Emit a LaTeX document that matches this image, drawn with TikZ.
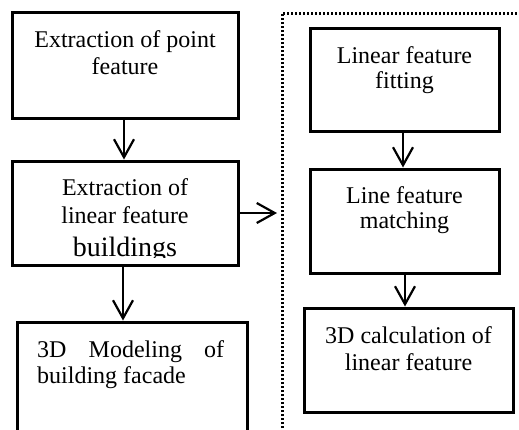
\documentclass[tikz,border=0pt]{standalone}
\usepackage{fontspec}
\setmainfont{Liberation Serif}
\usetikzlibrary{arrows.meta}
\begin{document}
\begin{tikzpicture}[x=1pt,y=-1pt,
  box/.style={draw, line width=3pt, minimum width=#1, inner sep=0pt},
  txt/.style={anchor=base, inner sep=0pt, font=\fontsize{24}{28}\selectfont},
  flow/.style={line width=2.2pt, -{Straight Barb[length=18pt,width=20pt,line width=2.2pt]}},
  frame/.style={line width=3pt, dash pattern=on 2.4pt off 1.6pt}]
\useasboundingbox (0,0) rectangle (519,429);
\clip (0,0) rectangle (519,429);

% left column
\node[box=226pt, minimum height=106pt] (b1) at (125,65) {};
\node[box=226pt, minimum height=104pt] (b2) at (125,213) {};
\node[box=230pt, minimum height=140pt] (b3) at (132,392) {};

\node[txt] (t1a) at (125,47) {Extraction of point};
\node[txt] (t1b) at (125,74) {feature};
\node[txt] (t2a) at (125,195) {Extraction of};
\node[txt] (t2b) at (125,223) {linear feature};
\begin{scope}
  \clip (12,230) rectangle (238,257);
  \node[anchor=base, inner sep=0pt, font=\fontsize{28}{32}\selectfont] (t2c) at (125,256) {buildings};
\end{scope}
\node[txt, anchor=base west] (t3a) at (37,357) {\makebox[187pt][s]{3D\hfill Modeling\hfill of}};
\node[txt, anchor=base west] (t3b) at (37,383) {building facade};

% dotted frame of the right column
\draw[frame] (282,440) -- (282,13) -- (530,13);

% right column
\node[box=189pt, minimum height=103pt] (b4) at (404.5,79.5) {};
\node[box=189pt, minimum height=104pt] (b5) at (404.5,221) {};
\node[box=209pt, minimum height=104pt] (b6) at (408.5,360) {};

\node[txt] (t4a) at (404.5,63) {Linear feature};
\node[txt] (t4b) at (404.5,88) {fitting};
\node[txt] (t5a) at (404.5,203) {Line feature};
\node[txt] (t5b) at (404.5,228) {matching};
\node[txt] (t6a) at (408.5,343) {3D calculation of};
\node[txt] (t6b) at (408.5,370) {linear feature};

% connectors
\coordinate (out) at (277,213);
\draw[flow] (b1.south -| 124,0) -- (b2.north -| 124,0);
\draw[flow] (b2.south -| 123,0) -- (b3.north -| 123,0);
\draw[flow] (b2.east |- 0,213) -- (out);
\draw[flow] (b4.south -| 403,0) -- (b5.north -| 403,0);
\draw[flow] (b5.south -| 405,0) -- (b6.north -| 405,0);
\end{tikzpicture}
\end{document}
